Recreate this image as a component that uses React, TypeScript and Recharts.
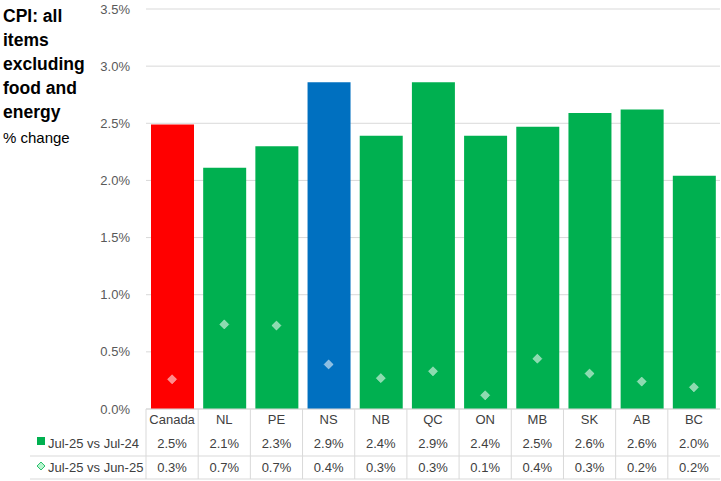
import React from 'react';
import { ComposedChart, Bar, Line, XAxis, YAxis, CartesianGrid, Cell } from 'recharts';

const categories = ['Canada', 'NL', 'PE', 'NS', 'NB', 'QC', 'ON', 'MB', 'SK', 'AB', 'BC'];
const yearly = [2.49, 2.11, 2.3, 2.86, 2.39, 2.86, 2.39, 2.47, 2.59, 2.62, 2.04];
const monthly = [0.26, 0.74, 0.73, 0.39, 0.27, 0.33, 0.12, 0.44, 0.31, 0.24, 0.19];
const yearlyLabels = ['2.5%', '2.1%', '2.3%', '2.9%', '2.4%', '2.9%', '2.4%', '2.5%', '2.6%', '2.6%', '2.0%'];
const monthlyLabels = ['0.3%', '0.7%', '0.7%', '0.4%', '0.3%', '0.3%', '0.1%', '0.4%', '0.3%', '0.2%', '0.2%'];
const barColors = ['#ff0000', '#00b050', '#00b050', '#0070c0', '#00b050', '#00b050', '#00b050', '#00b050', '#00b050', '#00b050', '#00b050'];
const yTicks = [0, 0.5, 1, 1.5, 2, 2.5, 3, 3.5];
const seriesNames = ['Jul-25 vs Jul-24', 'Jul-25 vs Jun-25'];

const data = categories.map((c, i) => ({ name: c, y: yearly[i], m: monthly[i] }));

const W = 721;
const H = 481;
const PLOT_LEFT = 146;
const PLOT_RIGHT = 720;
const AXIS_Y = 409;
const BAND = (PLOT_RIGHT - PLOT_LEFT) / categories.length;
const GRID = '#d9d9d9';
const TXT = '#404040';
const FONT = '"Liberation Sans", Arial, sans-serif';

const Diamond = (props: any) => {
  const { cx, cy } = props;
  if (cx == null || cy == null) return null;
  const r = 4.6;
  return (
    <polygon
      points={`${cx},${cy - r} ${cx + r},${cy} ${cx},${cy + r} ${cx - r},${cy}`}
      fill="#ffffff"
      fillOpacity={0.55}
      stroke="#ffffff"
      strokeOpacity={0.35}
      strokeWidth={0.8}
    />
  );
};

const TableTick = (props: any) => {
  const { x, index } = props;
  const left = x - BAND / 2;
  const common = { fontFamily: FONT, fontSize: 13, fill: TXT, textAnchor: 'middle' as const, dominantBaseline: 'central' as const };
  return (
    <g>
      <line x1={left} x2={left} y1={AXIS_Y} y2={479} stroke={GRID} strokeWidth={1} />
      <text x={x} y={419} {...common}>{categories[index]}</text>
      <text x={x} y={443} {...common}>{yearlyLabels[index]}</text>
      <text x={x} y={467} {...common}>{monthlyLabels[index]}</text>
      {index === 0 && (
        <g>
          <line x1={30} x2={PLOT_RIGHT} y1={456} y2={456} stroke={GRID} strokeWidth={1} />
          <line x1={30} x2={PLOT_RIGHT} y1={479} y2={479} stroke={GRID} strokeWidth={1} />
          <rect x={37} y={437} width={8} height={8} fill="#00b050" />
          <text x={48} y={443} {...common} textAnchor="start">{seriesNames[0]}</text>
          <polygon points="41,462 45,466 41,470 37,466" fill="#b7f5cf" stroke="#00b050" strokeWidth={0.8} />
          <text x={48} y={467} {...common} textAnchor="start">{seriesNames[1]}</text>
        </g>
      )}
    </g>
  );
};

export default function App() {
  return (
    <div style={{ position: 'absolute', left: 0, top: 0, width: W, height: H, background: '#fff', fontFamily: FONT }}>
      <div style={{ position: 'absolute', left: 3, top: 4, width: 98, fontWeight: 'bold', fontSize: 17.5, lineHeight: '24px', color: '#000' }}>
        CPI: all items excluding food and energy
      </div>
      <div style={{ position: 'absolute', left: 3, top: 126, fontSize: 15, lineHeight: '24px', color: '#000' }}>% change</div>
      <ComposedChart width={W} height={H} data={data} margin={{ top: 9, right: 1, bottom: 0, left: 0 }}>
        <CartesianGrid vertical={false} stroke={GRID} />
        <XAxis
          dataKey="name"
          height={72}
          axisLine={{ stroke: GRID }}
          tickLine={false}
          interval={0}
          tick={<TableTick />}
        />
        <YAxis
          width={146}
          domain={[0, 3.5]}
          ticks={yTicks}
          tickFormatter={(v: number) => v.toFixed(1) + '%'}
          axisLine={false}
          tickLine={false}
          tickMargin={10}
          tick={{ fill: '#595959', fontSize: 13, fontFamily: FONT }}
        />
        <Bar dataKey="y" barSize={43} isAnimationActive={false}>
          {data.map((d, i) => (
            <Cell key={d.name} fill={barColors[i]} />
          ))}
        </Bar>
        <Line dataKey="m" stroke="none" isAnimationActive={false} dot={<Diamond />} activeDot={false} />
      </ComposedChart>
    </div>
  );
}
